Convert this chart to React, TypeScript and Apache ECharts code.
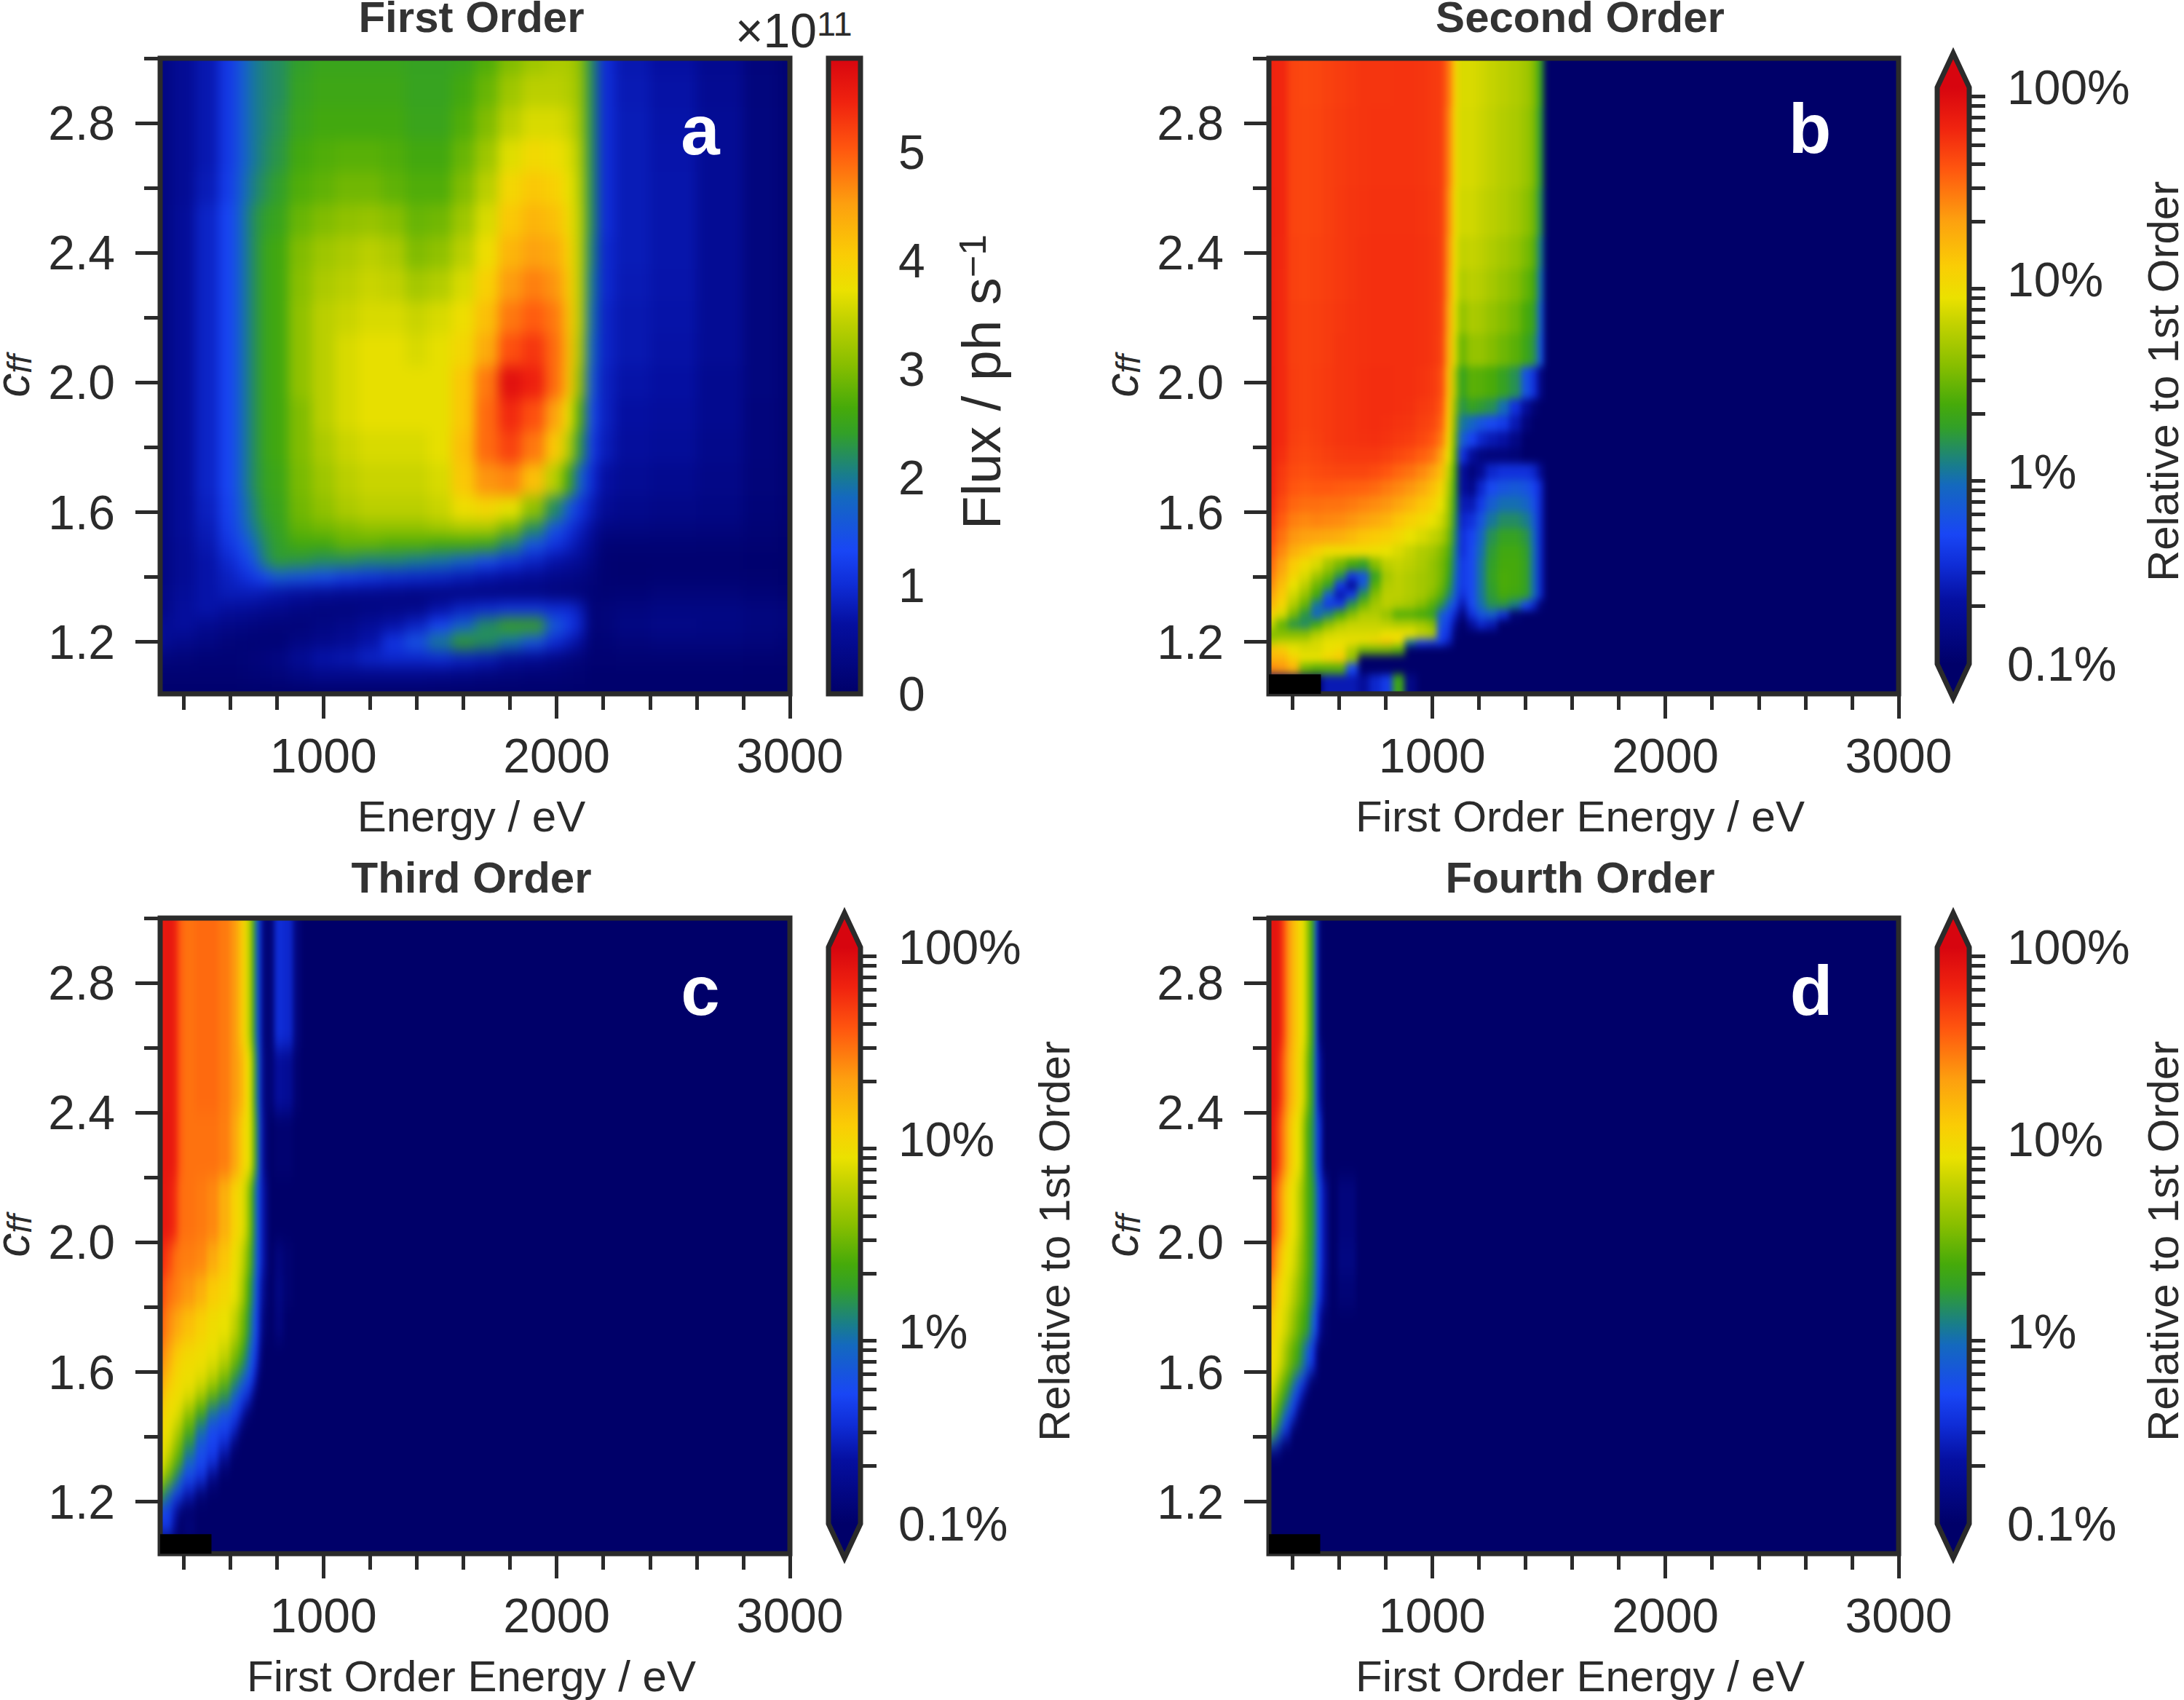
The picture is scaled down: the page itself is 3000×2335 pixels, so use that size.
import React, { useEffect, useRef } from "react";
import * as echarts from "echarts";

// ---------- Data ----------
const panelTitles = ["First Order", "Second Order", "Third Order", "Fourth Order"];
const panelLetters = ["a", "b", "c", "d"];
const xTitles = ["Energy / eV", "First Order Energy / eV", "First Order Energy / eV", "First Order Energy / eV"];
const xMajor = [1000, 2000, 3000];
const xMinor = [400, 600, 800, 1200, 1400, 1600, 1800, 2200, 2400, 2600, 2800];
const yMajor = [1.2, 1.6, 2.0, 2.4, 2.8];
const yMinor = [1.4, 1.8, 2.2, 2.6, 3.0];
const fluxTicks = [0, 1, 2, 3, 4, 5];
const fluxMax = 5.87;
const ratioTicks = [0.1, 1, 10, 100];
const ratioTickLabels = ["0.1%", "1%", "10%", "100%"];
const ratioMinor = [0.2, 0.3, 0.4, 0.5, 0.6, 0.7, 0.8, 0.9, 2, 3, 4, 5, 6, 7, 8, 9, 20, 30, 40, 50, 60, 70, 80, 90];

const colormapStops: [number, number, number, number][] = [
  [0, 0, 0, 105], [0.11, 5, 15, 160], [0.172, 15, 45, 215], [0.225, 25, 70, 245], [0.31, 20, 105, 190],
  [0.345, 25, 125, 140], [0.41, 50, 160, 40], [0.45, 70, 170, 10], [0.517, 135, 190, 0], [0.59, 195, 210, 0],
  [0.635, 235, 225, 0], [0.69, 250, 205, 5], [0.77, 253, 160, 15], [0.86, 255, 85, 15], [0.93, 240, 35, 15], [1, 215, 5, 15],
];

const aX = [100, 350, 450, 550, 625, 675, 725, 775, 850, 950, 1050, 1150, 1250, 1350, 1450, 1550, 1650, 1750, 1850, 1950, 2025, 2075, 2125, 2175, 2250, 2400, 2600, 2800, 2950, 3200];
const aY = [3.2, 2.95, 2.85, 2.75, 2.65, 2.55, 2.45, 2.35, 2.25, 2.15, 2.05, 1.95, 1.85, 1.75, 1.65, 1.575, 1.525, 1.475, 1.425, 1.375, 1.325, 1.275, 1.225, 1.175, 1.125, 1.07, 0.9];
const aValues = [
  [.3,.5,.75,1.15,1.6,1.95,2.1,2.2,2.4,2.5,2.5,2.5,2.5,2.45,2.45,2.5,2.7,3,3.2,3.3,3.3,3.1,2.2,1,.75,.65,.45,.22,.12],
  [.3,.5,.75,1.15,1.6,1.95,2.1,2.2,2.45,2.55,2.55,2.55,2.55,2.47,2.47,2.6,2.85,3.2,3.4,3.4,3.35,3.15,2.2,1,.78,.68,.48,.24,.13],
  [.3,.5,.75,1.15,1.6,1.95,2.1,2.25,2.5,2.6,2.6,2.6,2.6,2.5,2.5,2.7,3,3.4,3.6,3.6,3.5,3.2,2.2,1,.8,.7,.5,.25,.14],
  [.3,.5,.75,1.15,1.6,1.95,2.15,2.3,2.6,2.7,2.75,2.75,2.7,2.6,2.6,2.85,3.2,3.65,3.85,3.8,3.65,3.3,2.2,1,.8,.71,.5,.25,.14],
  [.3,.5,.8,1.2,1.7,2.05,2.25,2.4,2.7,2.8,2.9,2.9,2.8,2.7,2.7,3,3.4,3.9,4.1,4,3.75,3.35,2.2,1,.8,.72,.5,.25,.14],
  [.3,.55,.9,1.3,1.8,2.2,2.4,2.5,2.85,3,3.1,3.15,3.05,2.85,2.9,3.2,3.6,4.1,4.3,4.2,3.85,3.4,2.2,1,.8,.72,.5,.25,.14],
  [.3,.55,.9,1.3,1.8,2.2,2.5,2.6,3,3.2,3.3,3.4,3.3,3,3.1,3.4,3.8,4.3,4.5,4.4,4,3.4,2.1,.95,.8,.72,.5,.25,.14],
  [.3,.55,.9,1.3,1.8,2.2,2.5,2.6,3.05,3.3,3.4,3.5,3.45,3.25,3.35,3.6,4,4.55,4.75,4.6,4.1,3.4,2,.95,.78,.71,.5,.25,.14],
  [.3,.55,.9,1.3,1.8,2.2,2.5,2.6,3.1,3.4,3.5,3.6,3.6,3.5,3.6,3.8,4.2,4.8,5,4.8,4.2,3.4,1.9,.9,.75,.7,.5,.25,.14],
  [.3,.55,.9,1.3,1.8,2.2,2.5,2.6,3.1,3.4,3.6,3.7,3.7,3.6,3.7,3.9,4.4,5.1,5.3,4.9,4.25,3.3,1.8,.9,.75,.68,.5,.25,.14],
  [.3,.55,.9,1.3,1.8,2.2,2.5,2.6,3.1,3.4,3.6,3.7,3.7,3.7,3.7,4.1,4.8,5.7,5.5,4.9,4.2,3.1,1.6,.85,.7,.65,.45,.25,.14],
  [.3,.55,.9,1.3,1.8,2.2,2.5,2.6,3,3.4,3.6,3.7,3.7,3.7,3.7,4.1,4.9,5.4,5.1,4.5,3.8,2.7,1.4,.85,.65,.6,.45,.22,.13],
  [.3,.55,.9,1.3,1.8,2.2,2.5,2.6,3,3.3,3.5,3.6,3.6,3.6,3.7,4.2,4.9,5.2,4.8,4.1,3.4,2.3,1.2,.8,.6,.55,.4,.22,.12],
  [.3,.55,.9,1.3,1.8,2.2,2.45,2.55,2.95,3.2,3.4,3.5,3.5,3.5,3.6,4.1,4.6,4.7,4.2,3.4,2.6,1.7,1,.65,.5,.45,.35,.2,.12],
  [.3,.55,.85,1.25,1.7,2.1,2.4,2.5,2.9,3.1,3.3,3.4,3.4,3.4,3.5,3.8,3.9,3.7,3.1,2.2,1.6,1.1,.8,.5,.4,.35,.3,.18,.1],
  [.3,.55,.8,1.2,1.6,2,2.3,2.45,2.8,2.9,3,3.1,3.1,3.1,3.2,3.3,3.3,2.9,2.2,1.5,1.1,.85,.6,.3,.28,.25,.22,.14,.08],
  [.3,.5,.75,1.1,1.4,1.8,2.2,2.4,2.6,2.6,2.8,2.8,2.7,2.7,2.6,2.6,2.5,2.1,1.5,1.1,.9,.7,.45,.15,.14,.14,.13,.1,.06],
  [.3,.5,.7,.95,1.2,1.5,2.1,2.35,2.3,2.2,2.2,2.1,2.1,2,1.9,1.7,1.4,1.1,.9,.7,.6,.5,.3,.1,.08,.08,.08,.06,.05],
  [.3,.5,.7,.85,1,1.15,1.35,1.6,1.5,1.4,1.2,1.1,1,.95,.9,.8,.7,.6,.5,.4,.35,.3,.2,.1,.08,.1,.1,.08,.05],
  [.35,.55,.7,.8,.8,.8,.75,.7,.6,.5,.45,.4,.35,.3,.3,.3,.3,.3,.3,.25,.22,.2,.15,.12,.15,.2,.2,.15,.08],
  [.35,.6,.7,.6,.55,.5,.45,.4,.3,.25,.25,.3,.35,.4,.7,.9,1,1.1,1.1,1,1,.8,.15,.2,.25,.3,.3,.25,.2],
  [.5,.6,.45,.35,.3,.25,.22,.2,.2,.3,.4,.55,.7,.9,1.3,1.7,2.2,2.5,2.5,1.6,1.2,.9,.15,.2,.3,.35,.32,.25,.2],
  [.5,.4,.3,.2,.17,.15,.15,.15,.3,.4,.5,.7,1.1,1.5,2,2.4,2.2,1.9,1.5,1,.8,.6,.12,.15,.2,.25,.25,.2,.15],
  [.25,.2,.15,.15,.17,.2,.25,.3,.5,.7,.75,.9,.95,.95,1,.9,.8,.6,.5,.35,.25,.2,.1,.1,.12,.12,.12,.1,.08],
  [.1,.1,.1,.1,.12,.15,.17,.2,.3,.4,.4,.4,.4,.4,.35,.3,.25,.2,.15,.15,.12,.1,.06,.06,.06,.06,.06,.05,.05],
  [.05,.05,.05,.05,.05,.05,.05,.05,.05,.05,.05,.05,.05,.05,.05,.05,.05,.05,.05,.05,.05,.05,.03,.03,.03,.03,.03,.03,.03],
];

const bX = [100, 330, 380, 430, 480, 530, 580, 630, 680, 730, 780, 830, 880, 930, 980, 1020, 1055, 1085, 1110, 1150, 1190, 1230, 1280, 1330, 1380, 1420, 1450, 1475];
const bY = [3.2, 2.85, 2.6, 2.45, 2.35, 2.25, 2.15, 2.05, 1.95, 1.9, 1.85, 1.8, 1.75, 1.7, 1.65, 1.6, 1.55, 1.5, 1.46, 1.42, 1.39, 1.36, 1.33, 1.30, 1.27, 1.24, 1.21, 1.19, 1.163, 1.135, 1.10, 0.9];
const bValues = [
  [62,60,45,43,44,46,48,50,52,52,52,53,53,52,50,48,30,11,7,7,6.5,6,5.5,5,4.5,3.5,1.8],
  [63,60,45,44,45,47,49,51,52,53,53,53,53,52,50,48,27,10,6.8,6.8,6.3,5.8,5.2,4.8,4.2,3.3,1.6],
  [64,60,45,44,45,47,50,52,53,54,54,54,54,53,51,48,25,9,6.5,6.5,6,5.5,5,4.5,3.8,3,1.4],
  [64,59,46,45,46,48,50,52,54,55,55,55,55,54,52,48,23,8.5,5.8,6,5.6,5,4.5,4,3.3,2.6,1.1],
  [64,58,46,45,46,48,50,52,54,55,55,55,55,54,52,48,22,8,5,5.5,5.2,4.6,4,3.5,2.8,2.2,.9],
  [65,58,47,46,47,49,51,53,54,55,55,55,55,54,52,47,20,7.5,4,4.8,4.6,4,3.5,3,2.3,1.8,.7],
  [65,58,47,46,47,49,52,53,54,55,55,55,55,54,52,46,18,7,3,4,4,3.5,3,2.6,2,1.5,.6],
  [66,58,48,46,48,50,52,53,55,56,56,55,55,53,50,42,15,5,1.9,2.6,2.5,2.3,1.8,1.4,.6,.35,.15],
  [66,58,48,46,48,50,52,53,55,56,56,55,54,50,47,38,13,4,1.5,1.8,1.6,1.4,.9,.35,.2,.12],
  [66,58,48,46,48,50,52,53,55,56,55,53,52,47,44,34,12,3.5,1,.8,.6,.5,.4,.25,.13],
  [66,58,47,45,47,50,52,53,54,55,53,50,48,43,38,28,10,3,.7,.45,.3,.25,.22,.15],
  [65,55,45,43,45,47,49,50,50,50,47,43,40,35,30,20,8,2.6,.35,.2,.14,.13,.13,.12],
  [64,50,42,40,42,43,44,44,44,42,38,33,30,25,20,14,6,2.2,.2,.13,.18,.3,.35,.35,.35,.3,.18],
  [62,47,38,36,37,37,36,35,34,32,28,25,22,18,14,10,5,1.9,.2,.16,.3,.5,.6,.65,.6,.45,.3],
  [58,42,33,31,31,30,30,28,26,24,22,19,16,13,11,8,4.5,1.7,.25,.25,.4,.7,.9,.9,.8,.55,.3],
  [52,36,27,25,26,25,24,22,20,18,16,13,11,9.5,8,6.5,4,1.5,.3,.35,.6,1,1.3,1.3,1.1,.7,.3],
  [45,30,22,20,19,18,17,15,13,12,11,9.5,8,7,6,5,3.2,1.3,.35,.45,.8,1.4,1.8,1.8,1.5,.85,.3],
  [38,25,17,14,11,9,9,9,9,8.5,8,7,6,5,4.5,3.5,2.5,1.1,.35,.5,.9,1.6,2.1,2.1,1.7,.9,.3],
  [32,20,12,9,7,4.5,3.2,2.2,1.8,3.5,5.5,6,5.5,4.8,4,3.2,2.2,1,.4,.5,1,1.7,2.2,2.2,1.8,.9,.3],
  [28,17,10,7,4.5,3,1.5,.4,.6,1.8,4.5,5.5,5,4.5,4,3.2,2,.9,.4,.5,1,1.8,2.3,2.2,1.8,.9,.3],
  [24,14,8,5.5,3,1.8,.4,.2,.7,2.5,5,5.5,5,4.5,4,3,1.7,.8,.4,.5,1,1.7,2.3,2.2,1.8,.9,.3],
  [20,12,6.5,4,2.2,.7,.25,.4,1.5,3.5,5.5,5.5,5,4.5,3.5,2.5,1.3,.7,.35,.5,1,1.6,2.2,2,1.7,.9,.3],
  [16,10,5,2.8,1,.4,.4,1.5,3,4.5,5.5,5,4.5,3.5,2.5,1.5,.8,.5,.25,.5,.9,1.4,1.5,1.1,.5,.3,.12],
  [11,7,3.2,1.5,.8,1.2,2.2,3.5,5,5,4,2.5,2.5,2.2,1.8,.7,.5,.3,.15,.35,.6,.7,.35,.12],
  [6,2.8,1.5,1.3,2,3.5,5,6,6,6,5.5,5,5,4.5,3.5,.6,.4,.2,.1,.2,.3,.25,.1],
  [3.5,3.5,3.5,3.5,5,6.5,7,7,7,7,8,8.5,8,6,5,.45,.35,.12],
  [5,6,6,6,7,8,8,8.5,8.5,10,13,9,1,.45,.4,.4,.25],
  [14,12,8,7,7,8,9,5,3,3,3,2.5],
  [16,16,11,8,8,10,12,4],
  [25,22,16,3,2.5,2.5,2.5,.5],
  [.1,.1,.1,.1,.1,.25,.25,.25,.2,.3,.4,2,.15],
];

const cX = [100, 320, 350, 375, 400, 450, 500, 550, 600, 630, 650, 670, 690, 705, 720, 735, 760, 790, 830, 870, 900];
const cY = [3.2, 2.6, 2.4, 2.2, 2.0, 1.9, 1.8, 1.7, 1.65, 1.6, 1.55, 1.5, 1.45, 1.4, 1.35, 1.3, 1.25, 1.2, 1.15, 1.1];
const cValues = [
  [70,75,65,35,30,32,32,28,22,15,10,6,2.5,.9,.35,.12,.12,.33,.3,.13],
  [70,75,65,35,30,32,32,28,22,18,13,8,3.5,1.2,.4,.13,.12,.2,.18,.11],
  [75,75,65,35,30,30,30,27,20,14,10,8,4,1.5,.45,.15,.1,.11,.11,.1],
  [75,70,55,32,30,28,25,17,11,9,7,4,1.8,.8,.4,.2,.1,.1,.1,.1],
  [60,45,32,28,27,25,18,13,9,7,5,3,1.5,.7,.4,.2,.1,.13,.11,.1],
  [45,32,28,25,22,17,12,10,8,6,4,2.2,1.1,.6,.3,.15,.1,.14,.11,.1],
  [35,25,20,17,14,11,9,8,6,4,2.8,1.5,.8,.5,.25,.12,.1,.13,.1,.1],
  [28,20,14,12,10,9,8,6.5,4,3,2,1,.6,.4,.2,.1],
  [24,17,12,10,9,8.5,7,5,3,2,1.3,.8,.5,.3,.15,.1],
  [20,13,10,9,8.5,7,5,3,1.5,1,.7,.5,.35,.2,.1],
  [15,10,9,8.5,7,4.5,2.6,1.5,.8,.5,.4,.3,.15,.1],
  [12,9,8,6.5,4,2.2,1,.6,.45,.35,.2,.11],
  [10,8,6,4.5,2.5,1,.5,.45,.3,.15,.1],
  [9,7,4.5,3,1.4,.6,.45,.3,.13,.1],
  [8,5,3,2,.8,.5,.35,.15,.1],
  [5,3,1.5,.8,.5,.35,.15,.1],
  [2,1,.5,.4,.25,.12],
  [.45,.4,.25,.12,.1],
  [.4,.4,.2,.1,.13,.1],
];

const dX = [100, 315, 335, 355, 375, 395, 415, 435, 455, 475, 495, 510, 530, 555, 595, 670];
const dY = [3.2, 2.6, 2.4, 2.2, 2, 1.9, 1.8, 1.7, 1.6, 1.55, 1.5, 1.45, 1.4, 1.37];
const dValues = [
  [75,80,70,40,22,15,11,8,4.5,2,.6,.11],
  [80,80,55,32,20,14,10,7,3.5,1.7,.6,.2,.1],
  [80,65,40,25,15,10,8,5,2.5,1.5,.7,.3,.1],
  [70,40,25,15,10,8,6,4,2.5,1.7,1,.4,.2,.1,.13],
  [45,25,15,10,8,7,5,3.5,2.5,1.6,.9,.4,.2,.1,.14],
  [25,15,10,8.5,7,5.5,4,3,2.2,1.4,.8,.35,.17,.1,.12],
  [14,10,8.5,7,5.5,4,3,2.3,1.7,.9,.5,.2,.11],
  [10,8.5,7,5,3.5,2.6,2,1.2,.7,.4,.2,.1],
  [9,7,4.5,3,2.2,1.2,.7,.45,.25,.1],
  [7,4.5,3,2,1.2,.6,.4,.2,.1],
  [5,3,2,1,.6,.4,.15,.1],
  [3,2,1,.5,.3,.1],
  [.9,.5,.3,.1],
];

// regions without data, drawn black: [xFrom, xTo, yFrom, yTo]
const blackRegions: number[][][] = [
  [],
  [[300, 523, 1.04, 1.10]],
  [[300, 520, 1.04, 1.10]],
  [[300, 520, 1.04, 1.10]],
];

const panelX = [aX, bX, cX, dX];
const panelY = [aY, bY, cY, dY];
const panelValues = [aValues, bValues, cValues, dValues];

// ---------- Layout ----------
const INK = "#2b2b2b";
const FONT = "Liberation Sans";
const X_MIN = 300, X_MAX = 3000, Y_MIN = 1.04, Y_MAX = 3.0;
const PLOT_W = 865, PLOT_H = 873;
const plotLeft = [220, 1743, 220, 1743];
const plotTop = [80, 80, 1261, 1261];
const barDX = 918, barW = 44;
const blurSigma = ["8 10", "4 6", "3.5 12", "3 12"];
const MARGIN = 110;
const NAVY = "rgb(0,0,105)";
const ratioBarTop = 40, ratioBarH = 792;
const ARROW_DECADES = 0.178;

const lerpColor = (t: number) => {
  const u = Math.max(0, Math.min(1, t));
  for (let i = 1; i < colormapStops.length; i++) {
    const b = colormapStops[i];
    if (u <= b[0]) {
      const a = colormapStops[i - 1];
      const f = (u - a[0]) / (b[0] - a[0]);
      return `rgb(${Math.round(a[1] + f * (b[1] - a[1]))},${Math.round(a[2] + f * (b[2] - a[2]))},${Math.round(a[3] + f * (b[3] - a[3]))})`;
    }
  }
  return "rgb(215,5,15)";
};
const colorOf = (panel: number, v: number) =>
  lerpColor(panel === 0 ? v / fluxMax : (Math.log10(Math.max(v, 0.1)) + 1) / 3);

function cellOption(panel: number) {
  const data: number[][] = [];
  panelValues[panel].forEach((row, r) => {
    row.forEach((v, c) => {
      data.push([panelX[panel][c], panelX[panel][c + 1], panelY[panel][r + 1], panelY[panel][r], v]);
    });
  });
  return {
    animation: false,
    backgroundColor: NAVY,
    grid: { left: MARGIN, right: MARGIN, top: MARGIN, bottom: MARGIN, outerBoundsMode: "none" },
    xAxis: { type: "value", min: X_MIN, max: X_MAX, show: false },
    yAxis: { type: "value", min: Y_MIN, max: Y_MAX, show: false },
    series: [
      {
        type: "custom",
        clip: false,
        silent: true,
        encode: { x: [0, 1], y: [2, 3] },
        data,
        renderItem: (_p: any, api: any) => {
          const p0 = api.coord([api.value(0), api.value(3)]);
          const p1 = api.coord([api.value(1), api.value(2)]);
          return {
            type: "rect",
            shape: { x: p0[0], y: p0[1], width: p1[0] - p0[0] + 1, height: p1[1] - p0[1] + 1 },
            style: { fill: colorOf(panel, api.value(4)) },
          };
        },
      },
    ],
  };
}

function overlayOption() {
  const text = { color: INK, fontFamily: FONT };
  const grid: any[] = [];
  const xAxis: any[] = [];
  const yAxis: any[] = [];
  const series: any[] = [];
  const minorTick = (values: number[]) => ({ show: true, length: 22, lineStyle: { width: 5, color: INK }, customValues: values });
  const majorTick = (values: number[]) => ({ show: true, length: 34, lineStyle: { width: 5, color: INK }, customValues: values });
  const blank = { axisLine: { show: false }, splitLine: { show: false }, nameMoveOverlap: false };

  for (let i = 0; i < 4; i++) {
    grid.push({ show: true, left: plotLeft[i], top: plotTop[i], width: PLOT_W, height: PLOT_H, borderColor: INK, borderWidth: 7, backgroundColor: "transparent", outerBoundsMode: "none" });
  }
  for (let i = 0; i < 4; i++) {
    const top = i === 0 ? plotTop[0] : plotTop[i] + ratioBarTop;
    const h = i === 0 ? PLOT_H : ratioBarH;
    grid.push({ show: false, left: plotLeft[i] + barDX, top, width: barW, height: h, outerBoundsMode: "none" });
  }
  for (let i = 0; i < 4; i++) {
    xAxis.push({
      type: "value", gridIndex: i, min: X_MIN, max: X_MAX, position: "bottom", ...blank,
      name: xTitles[i], nameLocation: "middle", nameGap: 138,
      nameTextStyle: { ...text, fontSize: 60, padding: [0, 10, 0, 0] },
      axisTick: majorTick(xMajor),
      axisLabel: { ...text, fontSize: 66, margin: 52, customValues: xMajor, formatter: (v: number) => String(v) },
    });
    xAxis.push({
      type: "value", gridIndex: i, min: X_MIN, max: X_MAX, position: "bottom", ...blank,
      axisTick: minorTick(xMinor), axisLabel: { show: false },
    });
    yAxis.push({
      type: "value", gridIndex: i, min: Y_MIN, max: Y_MAX, position: "left", ...blank,
      name: "{c|c}{f|ff}", nameLocation: "middle", nameGap: 170, nameRotate: 90,
      nameTextStyle: {
        rich: {
          c: { ...text, fontStyle: "italic", fontSize: 66, verticalAlign: "top", lineHeight: 66 },
          f: { ...text, fontStyle: "italic", fontSize: 46, verticalAlign: "bottom", lineHeight: 66 },
        },
      },
      axisTick: majorTick(yMajor),
      axisLabel: { ...text, fontSize: 66, margin: 62, padding: [6, 0, 0, 0], customValues: yMajor, formatter: (v: number) => v.toFixed(1) },
    });
    yAxis.push({
      type: "value", gridIndex: i, min: Y_MIN, max: Y_MAX, position: "left", ...blank,
      axisTick: minorTick(yMinor), axisLabel: { show: false },
    });
  }
  const barNameStyle = { ...text, fontSize: 60, padding: [0, 16, 0, 0] };
  for (let i = 0; i < 4; i++) {
    const flux = i === 0;
    xAxis.push({ type: "value", gridIndex: 4 + i, min: 0, max: 1, show: false });
    yAxis.push({
      type: "value", gridIndex: 4 + i, position: "right", ...blank,
      min: flux ? 0 : -1, max: flux ? fluxMax : 2,
      name: flux ? "Flux / ph s{s|\u22121}" : "Relative to 1st Order",
      nameLocation: "middle", nameRotate: 90, nameGap: flux ? 128 : 236,
      nameTextStyle: flux
        ? { ...text, fontSize: 75, padding: [0, 16, 0, 0], rich: { s: { ...text, fontSize: 52, verticalAlign: "top", lineHeight: 75 } } }
        : barNameStyle,
      axisTick: majorTick(flux ? fluxTicks : ratioTicks.map((v) => Math.log10(v))),
      axisLabel: {
        ...text, fontSize: 66, margin: 52, padding: [6, 0, 0, 0],
        customValues: flux ? fluxTicks : ratioTicks.map((v) => Math.log10(v)),
        formatter: (v: number) => (flux ? String(Math.round(v)) : ratioTickLabels[Math.round(v) + 1]),
      },
    });
    yAxis.push({
      type: "value", gridIndex: 4 + i, position: "right", ...blank,
      min: flux ? 0 : -1, max: flux ? fluxMax : 2,
      axisTick: flux ? { show: false } : minorTick(ratioMinor.map((v) => Math.log10(v))),
      axisLabel: { show: false },
    });
    const lo = flux ? 0 : -1;
    const hi = flux ? fluxMax : 2;
    const stops = colormapStops.map((s) => ({ offset: s[0], color: `rgb(${s[1]},${s[2]},${s[3]})` }));
    series.push({
      type: "custom", xAxisIndex: 8 + i, yAxisIndex: 8 + 2 * i, clip: false, silent: true, z: 5,
      encode: { x: 0, y: 1 },
      data: [[0, lo]],
      renderItem: (_p: any, api: any) => {
        const tl = api.coord([0, hi]);
        const br = api.coord([1, lo]);
        const midX = (tl[0] + br[0]) / 2;
        const children: any[] = [
          {
            type: "rect",
            shape: { x: tl[0], y: tl[1], width: br[0] - tl[0], height: br[1] - tl[1] },
            style: { fill: new echarts.graphic.LinearGradient(0, 1, 0, 0, stops) },
          },
        ];
        let outline: number[][] = [[tl[0], tl[1]], [br[0], tl[1]], [br[0], br[1]], [tl[0], br[1]]];
        if (!flux) {
          const apexTop = api.coord([0.5, hi + ARROW_DECADES]);
          const apexBot = api.coord([0.5, lo - ARROW_DECADES]);
          children.push({ type: "polygon", shape: { points: [[tl[0], tl[1]], [midX, apexTop[1]], [br[0], tl[1]]] }, style: { fill: "rgb(215,5,15)" } });
          children.push({ type: "polygon", shape: { points: [[tl[0], br[1]], [midX, apexBot[1]], [br[0], br[1]]] }, style: { fill: NAVY } });
          outline = [[tl[0], tl[1]], [midX, apexTop[1]], [br[0], tl[1]], [br[0], br[1]], [midX, apexBot[1]], [tl[0], br[1]]];
        }
        children.push({ type: "polygon", shape: { points: outline }, style: { fill: "none", stroke: INK, lineWidth: 7 } });
        return { type: "group", children };
      },
    });
    if (blackRegions[i].length) {
      series.push({
        type: "custom", xAxisIndex: 2 * i, yAxisIndex: 2 * i, clip: false, silent: true, z: 1,
        encode: { x: [0, 1], y: [2, 3] },
        data: blackRegions[i],
        renderItem: (_p: any, api: any) => {
          const p0 = api.coord([api.value(0), api.value(3)]);
          const p1 = api.coord([api.value(1), api.value(2)]);
          return { type: "rect", shape: { x: p0[0], y: p0[1], width: p1[0] - p0[0], height: p1[1] - p0[1] }, style: { fill: "#000" } };
        },
      });
    }
  }

  const title = panelTitles.map((t, i) => ({
    text: t, left: plotLeft[i] + PLOT_W / 2 - 5, top: i < 2 ? -7 : 1175, textAlign: "center", padding: 0,
    textStyle: { ...text, fontSize: 60, fontWeight: "bold" as const, color: "#333" },
  }));

  const letterX = [962, 2486, 962, 2488];
  const letterY = [178, 176, 1360, 1360];
  const graphic: any[] = panelLetters.map((l, i) => ({
    type: "text", x: letterX[i], y: letterY[i], z: 20,
    style: { text: l, fill: "#fff", font: `bold 96px "${FONT}"`, align: "center", verticalAlign: "middle" },
  }));
  graphic.push({
    type: "text", x: 1010, y: 42, z: 20,
    style: {
      text: "{a|\u00d710}{b|11}",
      rich: {
        a: { fill: INK, font: `66px "${FONT}"`, lineHeight: 66, verticalAlign: "bottom" },
        b: { fill: INK, font: `47px "${FONT}"`, lineHeight: 66, verticalAlign: "top" },
      },
      align: "left", verticalAlign: "middle",
    },
  });

  return { animation: false, backgroundColor: "transparent", title, grid, xAxis, yAxis, series, graphic };
}

export default function App() {
  const overlayRef = useRef<HTMLDivElement>(null);
  const cellRefs = useRef<(HTMLDivElement | null)[]>([]);
  useEffect(() => {
    const charts: echarts.ECharts[] = [];
    cellRefs.current.forEach((el, i) => {
      if (!el) return;
      const c = echarts.init(el, undefined, { renderer: "svg" });
      c.setOption(cellOption(i) as any);
      charts.push(c);
    });
    if (overlayRef.current) {
      const c = echarts.init(overlayRef.current, undefined, { renderer: "svg" });
      c.setOption(overlayOption() as any);
      charts.push(c);
    }
    return () => charts.forEach((c) => c.dispose());
  }, []);
  return (
    <div style={{ position: "absolute", left: 0, top: 0, width: 3000, height: 2335, background: "#fff", overflow: "hidden" }}>
      <svg width="0" height="0" style={{ position: "absolute" }}>
        {blurSigma.map((s, i) => (
          <filter key={i} id={`cell-blur-${i}`} x="-5%" y="-5%" width="110%" height="110%" colorInterpolationFilters="sRGB">
            <feGaussianBlur stdDeviation={s} />
          </filter>
        ))}
      </svg>
      {plotLeft.map((l, i) => (
        <div key={i} style={{ position: "absolute", left: l, top: plotTop[i], width: PLOT_W, height: PLOT_H, overflow: "hidden", background: NAVY }}>
          <div
            ref={(el) => { cellRefs.current[i] = el; }}
            style={{ position: "absolute", left: -MARGIN, top: -MARGIN, width: PLOT_W + 2 * MARGIN, height: PLOT_H + 2 * MARGIN, filter: `url(#cell-blur-${i})` }}
          />
        </div>
      ))}
      <div ref={overlayRef} style={{ position: "absolute", left: 0, top: 0, width: 3000, height: 2335 }} />
    </div>
  );
}
